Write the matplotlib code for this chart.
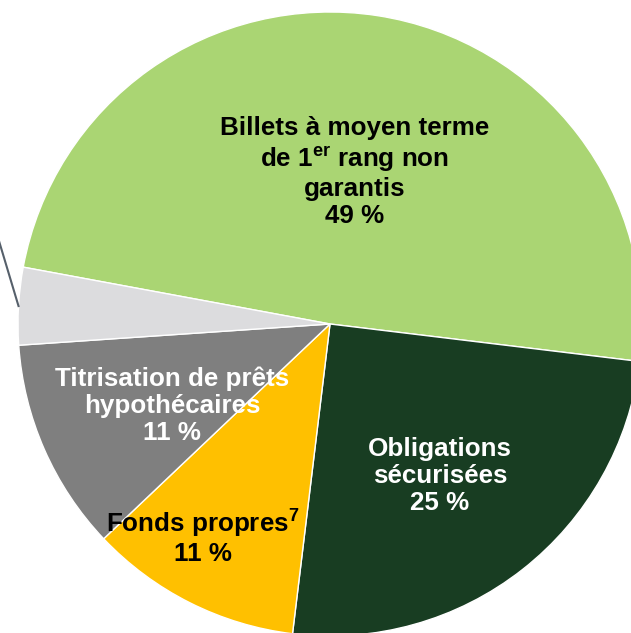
import matplotlib.pyplot as plt
import numpy as np

plt.rcParams['font.family'] = ['Liberation Sans', 'DejaVu Sans']
plt.rcParams['mathtext.fontset'] = 'custom'
plt.rcParams['mathtext.rm'] = 'Liberation Sans'
plt.rcParams['mathtext.bf'] = 'Liberation Sans:bold'

# slices, clockwise from the top-left
names = ['Billets à moyen terme\nde 1$^{\\mathbf{er}}$ rang non\ngarantis',
         'Obligations\nsécurisées',
         'Fonds propres$^{\\mathbf{7}}$',
         'Titrisation de prêts\nhypothécaires',
         '']
values = [49, 25, 11, 11, 4]
colors = ['#aad573', '#183d22', '#ffc000', '#7f7f7f', '#dcdcde']
text_colors = ['black', 'white', 'black', 'white', 'black']

W, H = 631, 633
fig = plt.figure(figsize=(W / 100, H / 100), dpi=100)
ax = fig.add_axes([0, 0, 1, 1])

cx, cy, r = 330, H - 324, 312
wedges, _ = ax.pie(values, colors=colors, startangle=169.5, counterclock=False,
                   center=(cx, cy), radius=r,
                   wedgeprops=dict(edgecolor='white', linewidth=1))

# label positions (pixel coords from top-left)
label_pos = [(355, 172), (440, 476), (203, 536), (172, 406)]
for i, (x, y) in enumerate(label_pos):
    ax.text(x, H - y, names[i] + '\n' + f'{values[i]} %', ha='center', va='center',
            fontsize=18.7, fontweight='bold', color=text_colors[i], linespacing=1.16)

# leader line from the small slice towards its (cropped) outside label
w = wedges[4]
mid = np.deg2rad((w.theta1 + w.theta2) / 2)
x0, y0 = cx + r * np.cos(mid), cy + r * np.sin(mid)
ax.plot([x0, x0 - 30], [y0, y0 + 100], color='#56606b', lw=1.5, clip_on=True)

ax.set_xlim(0, W)
ax.set_ylim(0, H)
ax.set_aspect('auto')
ax.axis('off')

plt.savefig('out.png', dpi=100)
plt.close()
